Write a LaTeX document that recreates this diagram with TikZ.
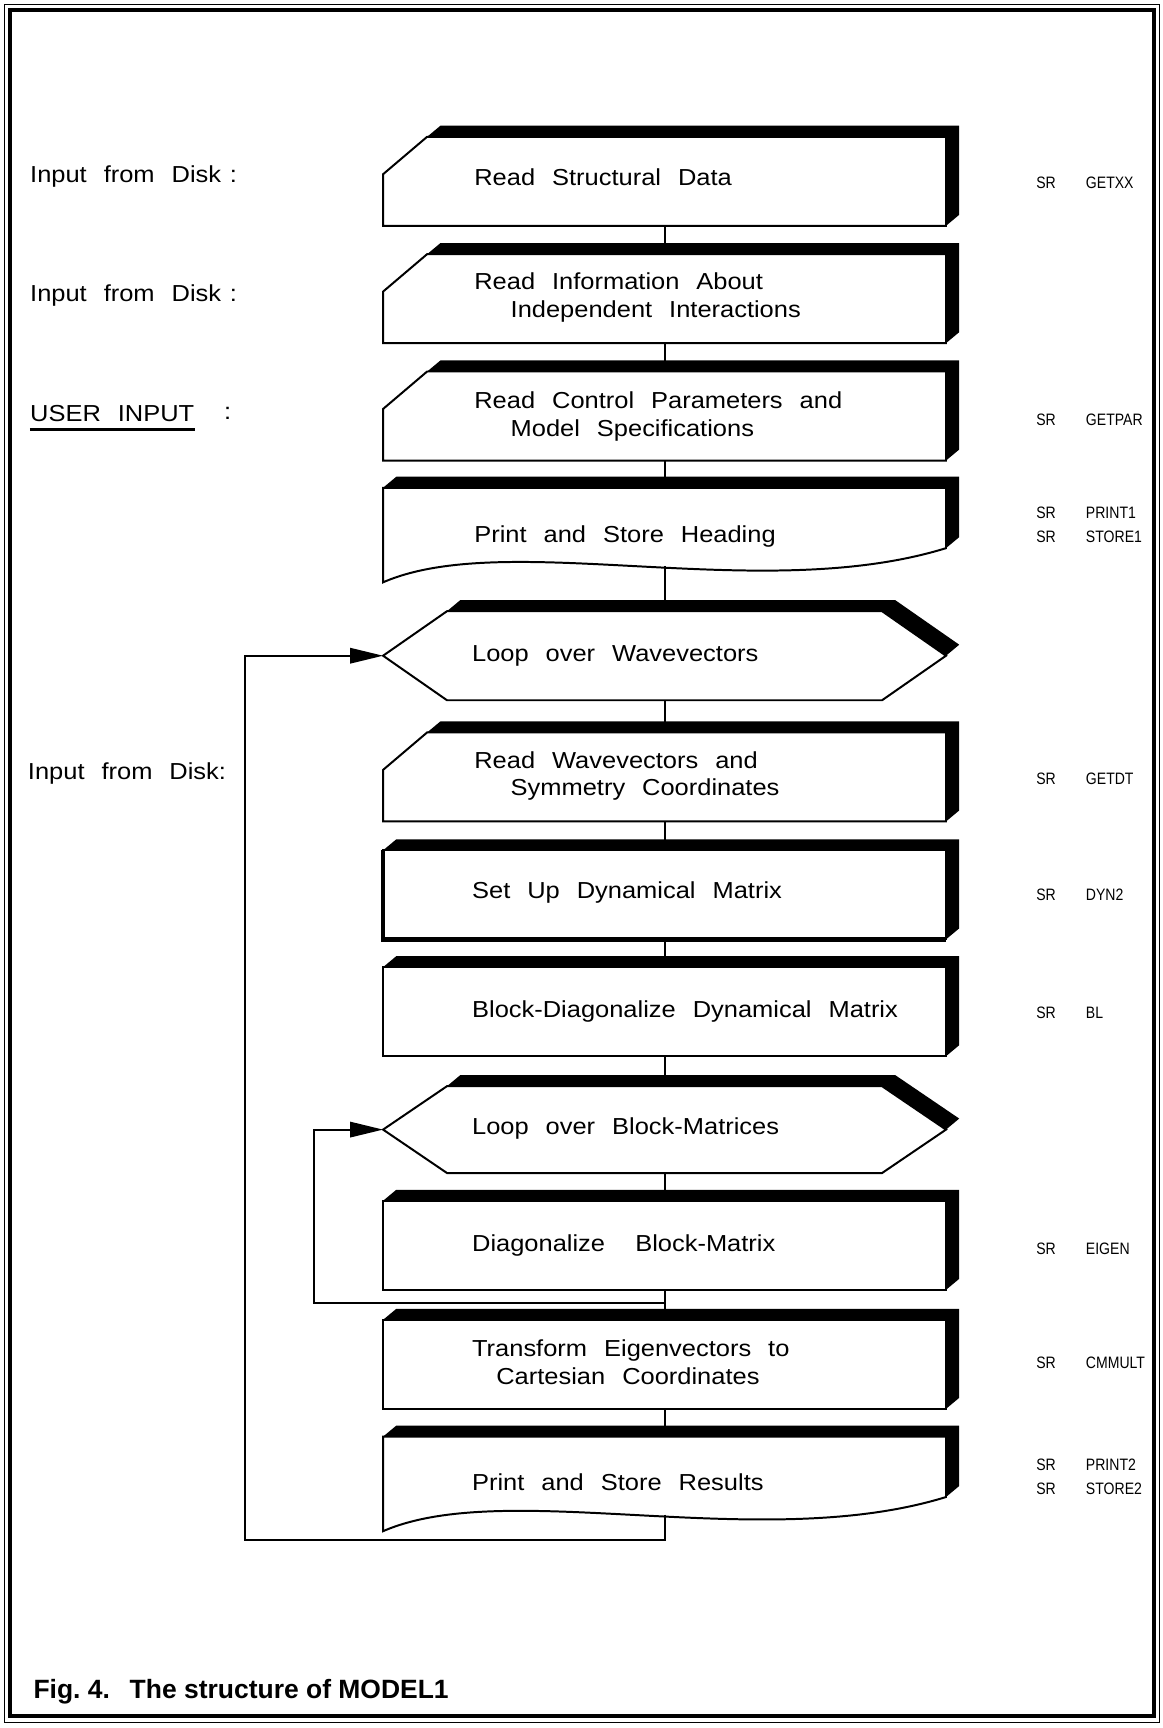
\documentclass[tikz,border=0pt]{standalone}
\usepackage{fontspec}
\setmainfont{Liberation Sans}
\newfontfamily\plotfont[FakeStretch=1.1,WordSpace=2.4]{Liberation Sans}
\newfontfamily\srfont[FakeStretch=0.85]{Liberation Sans}
\usetikzlibrary{arrows.meta,positioning,calc}

% black top and right faces first, then the front outline
\newcommand{\plainbox}[1]{%
  \fill (#1.north west) -- ++(12,-10) -| ($(#1.south east)+(12,-10)$) -- (#1.south east) -- (#1.north east) -- cycle;
  \draw[outline] (#1.north west) rectangle (#1.south east);
}
\newcommand{\cutbox}[1]{%
  \fill ($(#1.north west)+(40,0)$) -- ++(12,-10) -| ($(#1.south east)+(12,-10)$) -- (#1.south east) -- (#1.north east) -- cycle;
  \draw[outline] ($(#1.north west)+(40,0)$) -- (#1.north east) -- (#1.south east) -- (#1.south west) -- ($(#1.north west)+(0,34)$) -- cycle;
}
\newcommand{\docbox}[1]{%
  \fill (#1.north west) -- ++(12,-10) -| ($(#1.south east)+(12,-26)$) -- ($(#1.south east)+(0,-16)$) -- (#1.north east) -- cycle;
  \draw[outline] (#1.north west) -- (#1.north east) -- ($(#1.south east)+(0,-16)$)
    .. controls ($(#1.south)+(87,36)$) and ($(#1.south)+(-143,-34)$) .. ($(#1.south west)+(0,15)$) -- cycle;
}
\newcommand{\hexbox}[1]{%
  \fill ($(#1.north west)+(58,0)$) -- ++(12,-10) -- ($(#1.north east)+(-46,-10)$) -- ($(#1.east)+(12,-10)$) -- (#1.east) -- ($(#1.north east)+(-58,0)$) -- cycle;
  \draw[outline] (#1.west) -- ($(#1.north west)+(58,0)$) -- ($(#1.north east)+(-58,0)$) -- (#1.east) -- ($(#1.south east)+(-58,0)$) -- ($(#1.south west)+(58,0)$) -- cycle;
}

\begin{document}
\begin{tikzpicture}[x=0.5pt, y=-0.5pt,
    font=\plotfont\fontsize{10.5}{12.5}\selectfont,
    outline/.style={draw=black, line width=0.9pt, line join=miter},
    flow/.style={draw=black, line width=0.9pt},
    loopback/.style={flow, -{Triangle[length=15pt,width=7pt]}},
    stepbox/.style={rectangle, minimum width=255pt, minimum height=#1, inner sep=0pt},
    stepbox/.default=40pt,
    steptext/.style={anchor=west, align=left, inner sep=0pt},
    side/.style={anchor=west, inner sep=0pt},
    srname/.style={anchor=west, align=left, inner sep=0pt, font=\srfont\fontsize{7.5}{11}\selectfont},
  ]
  \useasboundingbox (0,0) rectangle (1055,1568);

  % --- frame ---
  \draw[line width=0.6pt] (4,4) rectangle (1052,1563);
  \draw[line width=1.5pt] (9,9) rectangle (1047,1557);

  % --- steps ---
  \node[stepbox] (b1) at (603,164.5) {};
  \node[stepbox] (b2) at (603,271) {};
  \node[stepbox] (b3) at (603,377.5) {};
  \node[stepbox=35pt] (b4) at (603,478) {};
  \node[stepbox] (h1) at (603,595) {};
  \node[stepbox] (b5) at (603,705) {};
  \node[stepbox] (b6) at (603,812) {};
  \node[stepbox] (b7) at (603,918) {};
  \node[stepbox=39pt] (h2) at (603,1025) {};
  \node[stepbox] (b8) at (603,1130) {};
  \node[stepbox] (b9) at (603,1238) {};
  \node[stepbox=35pt] (b10) at (603,1339) {};

  \cutbox{b1}
  \cutbox{b2}
  \cutbox{b3}
  \docbox{b4}
  \hexbox{h1}
  \cutbox{b5}
  \plainbox{b6}
  \draw[line width=2pt] (b6.north west) -- (b6.south west) -- (b6.south east);
  \plainbox{b7}
  \hexbox{h2}
  \plainbox{b8}
  \plainbox{b9}
  \docbox{b10}

  % texts in the steps
  \node[steptext] (t1) at (430,161) {Read Structural Data};
  \node[steptext] (t2) at (430,270) {Read Information About\\\hspace*{16.5pt}Independent Interactions};
  \node[steptext] (t3) at (430,378) {Read Control Parameters and\\\hspace*{16.5pt}Model Specifications};
  \node[steptext] (t4) at (430,487) {Print and Store Heading};
  \node[steptext] (t5) at (428,595) {Loop over Wavevectors};
  \node[steptext] (t6) at (430,704) {Read Wavevectors and\\\hspace*{16.5pt}Symmetry Coordinates};
  \node[steptext] (t7) at (428,810) {Set Up Dynamical Matrix};
  \node[steptext] (t8) at (428,918) {Block-Diagonalize Dynamical Matrix};
  \node[steptext] (t9) at (428,1024) {Loop over Block-Matrices};
  \node[steptext] (t10) at (428,1130) {Diagonalize\hspace{6pt} Block-Matrix};
  \node[steptext] (t11) at (428,1236) {Transform Eigenvectors to\\\hspace*{11pt}Cartesian Coordinates};
  \node[steptext] (t12) at (428,1345) {Print and Store Results};

  % --- connectors ---
  \draw[flow] (b1.south) -- (b2.north);
  \draw[flow] (b2.south) -- (b3.north);
  \draw[flow] (b3.south) -- (b4.north);
  \draw[flow] (b4.south) -- (h1.north);
  \draw[flow] (h1.south) -- (b5.north);
  \draw[flow] (b5.south) -- (b6.north);
  \draw[flow] (b6.south) -- (b7.north);
  \draw[flow] (b7.south) -- (h2.north);
  \draw[flow] (h2.south) -- (b8.north);
  \draw[flow] (b8.south) -- (b9.north);
  \draw[flow] (b9.south) -- (b10.north);

  % loops back
  \coordinate (ret2) at (285,1182);
  \coordinate (ret1) at (222,1397);
  \draw[loopback] (b8.south |- ret2) -- (ret2) |- (h2.west);
  \draw[loopback] (b10.south) |- (ret1) |- (h1.west);

  % --- inputs on the left ---
  \node[side] (in1) at (27,160) {Input from Disk\hspace{4pt}:};
  \node[side] (in2) at (27,268) {Input from Disk\hspace{4pt}:};
  \node[side] (usr) at (27,375) {USER INPUT};
  \node[side] (usrcol) at (203,375) {:};
  \draw[line width=1.6pt] ($(usr.south west)+(0,7)$) -- ($(usr.south east)+(0,7)$);
  \node[side] (in3) at (25,702) {Input from Disk:};

  % --- subroutines on the right ---
  \node[srname] (sr1) at (940,166) {\makebox[22.5pt][l]{SR}GETXX};
  \node[srname] (sr2) at (940,381) {\makebox[22.5pt][l]{SR}GETPAR};
  \node[srname] (sr3) at (940,476) {\makebox[22.5pt][l]{SR}PRINT1\\\makebox[22.5pt][l]{SR}STORE1};
  \node[srname] (sr4) at (940,707) {\makebox[22.5pt][l]{SR}GETDT};
  \node[srname] (sr5) at (940,812) {\makebox[22.5pt][l]{SR}DYN2};
  \node[srname] (sr6) at (940,919) {\makebox[22.5pt][l]{SR}BL};
  \node[srname] (sr7) at (940,1133) {\makebox[22.5pt][l]{SR}EIGEN};
  \node[srname] (sr8) at (940,1237) {\makebox[22.5pt][l]{SR}CMMULT};
  \node[srname] (sr9) at (940,1340) {\makebox[22.5pt][l]{SR}PRINT2\\\makebox[22.5pt][l]{SR}STORE2};

  % --- caption ---
  \node[side, font=\normalfont\bfseries\fontsize{12}{14}\selectfont] (cap) at (30,1535)
    {Fig.\ 4.\hspace{9pt}The structure of MODEL1};
\end{tikzpicture}
\end{document}
